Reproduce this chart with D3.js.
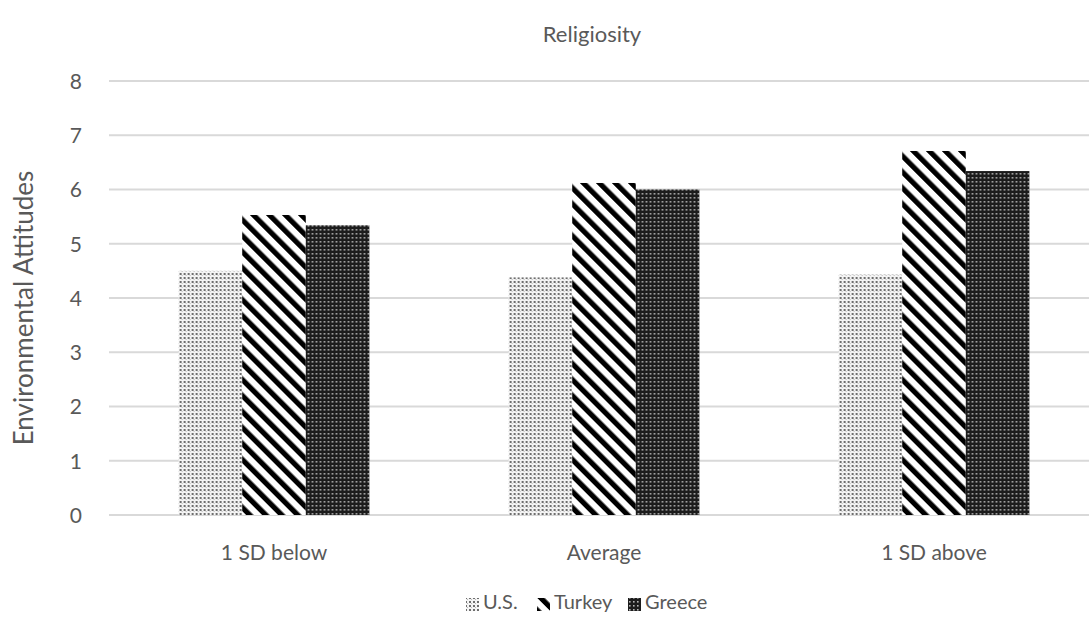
<!DOCTYPE html>
<html>
<head>
<meta charset="utf-8">
<script src="https://cdn.jsdelivr.net/npm/d3@7/dist/d3.min.js"></script>
<style>
  html, body { margin: 0; padding: 0; background: #fff; overflow: hidden; }
  svg { display: block; font-family: Lato, "Open Sans", sans-serif; }
</style>
</head>
<body>
<svg id="chart" width="1089" height="627"></svg>
<script>
// Environmental attitudes by religiosity level and country
const categories = ["1 SD below", "Average", "1 SD above"];
const seriesNames = ["U.S.", "Turkey", "Greece"];
const usValues = [4.50, 4.38, 4.43];
const turkeyValues = [5.53, 6.12, 6.71];
const greeceValues = [5.34, 6.00, 6.34];
const yTicks = [0, 1, 2, 3, 4, 5, 6, 7, 8];
const chartTitle = "Religiosity";
const yAxisTitle = "Environmental Attitudes";

const seriesValues = [usValues, turkeyValues, greeceValues];
const patternIds = ["pat-us", "pat-turkey", "pat-greece"];

const svg = d3.select("#chart");
const textColor = "#595959";
const gridColor = "#d9d9d9";
const fontStack = "Lato, 'Open Sans', sans-serif";

const plot = { left: 109, right: 1099, top: 81, bottom: 515 };

// Fill patterns
const defs = svg.append("defs");

const pUS = defs.append("pattern").attr("id", "pat-us")
  .attr("patternUnits", "userSpaceOnUse").attr("width", 4).attr("height", 4);
pUS.append("rect").attr("width", 4).attr("height", 4).attr("fill", "#f4f4f4");
pUS.append("rect").attr("x", 1).attr("y", 1).attr("width", 2).attr("height", 2).attr("fill", "#6e6e6e");
pUS.append("rect").attr("x", 3).attr("y", 3).attr("width", 1).attr("height", 1).attr("fill", "#b8b8b8");

const pTR = defs.append("pattern").attr("id", "pat-turkey")
  .attr("patternUnits", "userSpaceOnUse").attr("width", 11.3).attr("height", 11.3)
  .attr("patternTransform", "rotate(-45)");
pTR.append("rect").attr("width", 11.3).attr("height", 11.3).attr("fill", "#fff");
pTR.append("rect").attr("x", 0).attr("width", 5.2).attr("height", 11.3).attr("fill", "#000");

const pGR = defs.append("pattern").attr("id", "pat-greece")
  .attr("patternUnits", "userSpaceOnUse").attr("width", 4).attr("height", 4);
pGR.append("rect").attr("width", 4).attr("height", 4).attr("fill", "#1c1c1c");
pGR.append("rect").attr("x", 1).attr("y", 1).attr("width", 1.6).attr("height", 1.6).attr("fill", "#b5b5b5");

// Scales
const x0 = d3.scaleBand().domain(categories).range([plot.left, plot.right])
  .paddingInner(0.422).paddingOuter(0.211);
const x1 = d3.scaleBand().domain(seriesNames).range([0, x0.bandwidth()]);
const y = d3.scaleLinear().domain([0, 8]).range([plot.bottom, plot.top]);

// Gridlines
svg.append("g").selectAll("line").data(yTicks).join("line")
  .attr("x1", plot.left).attr("x2", 1089)
  .attr("y1", d => y(d)).attr("y2", d => y(d))
  .attr("stroke", gridColor).attr("stroke-width", 2);

// Y axis labels
const yAxis = d3.axisLeft(y).tickValues(yTicks).tickSize(0).tickPadding(0);
const yg = svg.append("g").attr("transform", `translate(${82},0)`).call(yAxis);
yg.select(".domain").remove();
yg.selectAll("text").attr("fill", textColor).style("font-size", "21px")
  .style("font-family", fontStack).attr("dy", "0.35em");

// Bars
const groups = svg.append("g").selectAll("g").data(categories).join("g")
  .attr("transform", d => `translate(${x0(d)},0)`);
groups.selectAll("rect")
  .data((c, i) => seriesNames.map((s, j) => ({ s, j, v: seriesValues[j][i] })))
  .join("rect")
  .attr("x", d => x1(d.s))
  .attr("width", x1.bandwidth())
  .attr("y", d => y(d.v))
  .attr("height", d => y(0) - y(d.v))
  .attr("fill", d => `url(#${patternIds[d.j]})`);

// Category axis labels
const xAxis = d3.axisBottom(x0).tickSize(0).tickPadding(0);
const xg = svg.append("g").attr("transform", `translate(0,${553})`).call(xAxis);
xg.select(".domain").remove();
xg.selectAll("text").attr("fill", textColor).style("font-size", "21px")
  .style("font-family", fontStack).attr("dy", "0.35em");

// Title
svg.append("text").attr("x", 592).attr("y", 36).attr("text-anchor", "middle")
  .attr("dominant-baseline", "middle")
  .attr("fill", textColor).style("font-size", "22px").text(chartTitle);

// Y axis title
svg.append("text")
  .attr("transform", `translate(26,${308}) rotate(-90)`)
  .attr("text-anchor", "middle").attr("dominant-baseline", "middle")
  .attr("fill", textColor).style("font-size", "26px").text(yAxisTitle);

// Legend
const legendItems = [
  { name: seriesNames[0], x: 466 },
  { name: seriesNames[1], x: 537 },
  { name: seriesNames[2], x: 628 }
];
const lg = svg.append("g").attr("transform", "translate(0,604)");
legendItems.forEach((it, i) => {
  lg.append("rect").attr("x", it.x).attr("y", -6).attr("width", 13).attr("height", 13)
    .attr("fill", `url(#${patternIds[i]})`);
  lg.append("text").attr("x", it.x + 17).attr("y", 0)
    .attr("dominant-baseline", "middle").attr("fill", textColor)
    .style("font-size", "20px").text(it.name);
});
</script>
</body>
</html>
